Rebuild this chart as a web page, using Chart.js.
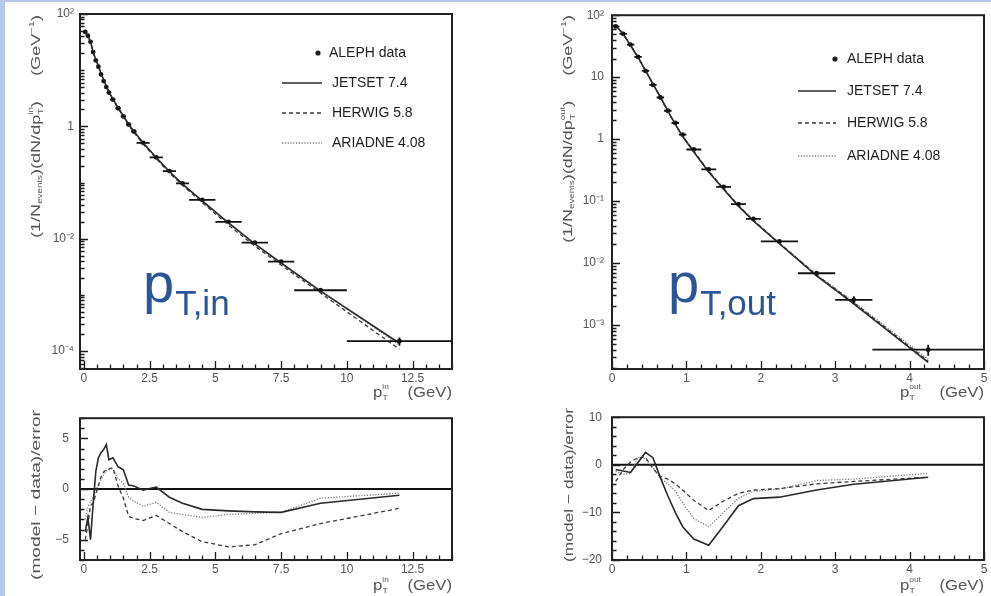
<!DOCTYPE html>
<html><head><meta charset="utf-8">
<script src="https://cdn.jsdelivr.net/npm/chart.js@4.4.1/dist/chart.umd.min.js"></script>
<style>
html,body{margin:0;padding:0;background:#fff;width:991px;height:596px;overflow:hidden;position:relative}
#strip{position:absolute;left:0;top:0;width:5px;height:596px;background:#b6c9ec}
#topline{position:absolute;left:0;top:0;width:991px;height:2px;background:#b6c9ec}
canvas{position:absolute}
</style></head><body>
<div id="strip"></div><div id="topline"></div>
<canvas id="tl" width="500" height="400" style="left:0;top:0;width:500px;height:400px"></canvas>
<canvas id="tr" width="491" height="400" style="left:500px;top:0;width:491px;height:400px"></canvas>
<canvas id="bl" width="500" height="196" style="left:0;top:400px;width:500px;height:196px"></canvas>
<canvas id="br" width="491" height="196" style="left:500px;top:400px;width:491px;height:196px"></canvas>
<script>
// ---------- DATA ----------
const legendLabels = ['ALEPH data','JETSET 7.4','HERWIG 5.8','ARIADNE 4.08'];

// p_T,in spectrum
const inX      = [0.05,0.15,0.25,0.35,0.45,0.55,0.65,0.75,0.85,0.95,1.1,1.3,1.5,1.7,1.9,2.25,2.75,3.25,3.75,4.5,5.5,6.5,7.5,9,12];
const inXerr   = [0.05,0.05,0.05,0.05,0.05,0.05,0.05,0.05,0.05,0.05,0.1,0.1,0.1,0.1,0.1,0.25,0.25,0.25,0.25,0.5,0.5,0.5,0.5,1,2];
const inData   = [48,41,32,21,15,11.5,8.4,6.4,5.0,4.0,3.0,2.1,1.5,1.08,0.81,0.51,0.28,0.16,0.097,0.049,0.020,0.0085,0.0039,0.00121,0.00015];
const inDataErr= [1.2,1.0,0.8,0.5,0.4,0.3,0.2,0.16,0.12,0.1,0.07,0.05,0.035,0.025,0.02,0.013,0.008,0.005,0.003,0.0015,0.0007,0.0003,0.00015,0.00006,0.000025];
const inJetset = [47,41,32,21.3,15.4,11.9,8.8,6.7,5.2,4.1,3.07,2.14,1.53,1.09,0.82,0.51,0.28,0.157,0.094,0.047,0.0192,0.0081,0.0037,0.00117,0.000138];
const inHerwig = [46,40.5,31.5,21,15.1,11.6,8.5,6.5,5.05,4.05,3.03,2.1,1.49,1.04,0.78,0.485,0.267,0.149,0.089,0.044,0.0175,0.0074,0.0034,0.00108,0.000108];
const inAriadne= [47,41,31.8,21.1,15.2,11.7,8.6,6.6,5.1,4.08,3.05,2.12,1.51,1.07,0.8,0.498,0.274,0.153,0.092,0.046,0.019,0.008,0.0037,0.00119,0.000128];

// p_T,out spectrum
const outX      = [0.05,0.15,0.25,0.35,0.45,0.55,0.65,0.75,0.85,0.95,1.1,1.3,1.5,1.7,1.9,2.25,2.75,3.25,4.25];
const outXerr   = [0.05,0.05,0.05,0.05,0.05,0.05,0.05,0.05,0.05,0.05,0.1,0.1,0.1,0.1,0.1,0.25,0.25,0.25,0.75];
const outData   = [66,50,33.5,21.2,12.6,7.5,4.7,2.87,1.82,1.18,0.68,0.324,0.169,0.089,0.0516,0.0223,0.00684,0.00255,0.0004];
const outDataErr= [2,1.5,1,0.6,0.4,0.25,0.16,0.1,0.06,0.04,0.025,0.013,0.008,0.005,0.003,0.0015,0.0006,0.00035,0.00008];
const outJetset = [68,50,32.5,20.8,12.8,7.8,4.8,2.85,1.74,1.1,0.62,0.295,0.155,0.083,0.048,0.0205,0.0062,0.0022,0.00025];
const outHerwig = [67,49.5,32.8,21.3,12.9,7.7,4.7,2.82,1.75,1.12,0.64,0.305,0.16,0.085,0.049,0.021,0.0064,0.0023,0.00026];
const outAriadne= [67,49.5,32.8,21,12.8,7.7,4.75,2.83,1.74,1.11,0.63,0.30,0.158,0.085,0.049,0.021,0.0065,0.00235,0.00028];

// (model - data)/error
const resInJetset  = [-4.2,-2.8,-5.0,-1.5,1.7,3.1,3.6,3.9,4.4,2.9,3.1,2.2,1.9,0.4,0.3,-0.1,0.2,-0.8,-1.4,-2.0,-2.15,-2.25,-2.3,-1.4,-0.6];
const resInHerwig  = [-5.0,-3.5,-1.6,-1.4,-0.5,0.3,1.2,1.7,1.9,2.0,2.1,0.3,-0.9,-2.7,-2.9,-3.1,-2.6,-3.4,-4.2,-5.2,-5.7,-5.5,-4.4,-3.4,-1.9];
const resInAriadne = [-3.0,-1.8,-1.2,-0.8,-0.2,0.5,0.9,1.4,1.8,1.9,2.0,1.0,0.6,-0.8,-1.2,-1.7,-1.3,-2.3,-2.5,-2.8,-2.5,-2.4,-2.3,-0.9,-0.4];
const resOutJetset = [-1.0,-1.3,-1.6,0.5,2.6,1.5,-2.7,-6.5,-10,-13,-15.6,-16.9,-12.8,-8.6,-7.1,-6.8,-5.3,-4.1,-2.6];
const resOutHerwig = [-3.5,-1.0,0.6,1.5,1.6,-0.8,-2.5,-3.0,-4.0,-5.3,-7.5,-9.6,-7.6,-6.0,-5.3,-5.0,-4.0,-3.5,-2.6];
const resOutAriadne= [-1.3,-2.0,-1.8,1.6,1.2,-0.5,-2.8,-4.0,-5.5,-8.0,-11.3,-13.0,-10.0,-7.0,-5.6,-5.1,-3.3,-3.0,-1.8];

// tick labels
const xTicksIn  = [0,2.5,5,7.5,10,12.5];
const xTicksOut = [0,1,2,3,4,5];
const yTicksInLog  = [100,1,0.01,0.0001];
const yTicksOutLog = [100,10,1,0.1,0.01,0.001];
const yTicksResIn  = [5,0,-5];
const yTicksResOut = [10,0,-10,-20];

// ---------- helpers ----------
const FAM = '"Liberation Sans", Arial, sans-serif';
const SUP = {'-':'\u207B','0':'\u2070','1':'\u00B9','2':'\u00B2','3':'\u00B3','4':'\u2074'};
function logLabel(v){const e=Math.round(Math.log10(v)); if(e===0)return '1'; if(e===1)return '10'; return '10'+String(e).split('').map(c=>SUP[c]).join('');}
function numLabel(v){return v<0?'\u2212'+Math.abs(v):String(v);}
function pts(X,Y){return X.map((x,i)=>({x:x,y:Y[i]}));}
function logMinor(min,max){const a=[];for(let e=Math.floor(Math.log10(min));e<=Math.ceil(Math.log10(max));e++){for(let k=1;k<10;k++){const v=k*Math.pow(10,e);if(v>=min*0.999&&v<=max*1.001)a.push(v);}}return a;}
function range(a,b,s){const r=[];for(let v=a;v<=b+1e-9;v+=s)r.push(+v.toFixed(6));return r;}
const STY = [
  {color:'#2a2a2a',width:1.6,dash:[]},
  {color:'#3a3a3a',width:1.3,dash:[4,3]},
  {color:'#7a7a7a',width:1.3,dash:[1.2,1.6]}
];
function lineDs(X,Y,i,label){return {label:label,data:pts(X,Y),showLine:true,borderColor:STY[i].color,borderWidth:STY[i].width,borderDash:STY[i].dash,pointRadius:0,fill:false,tension:0};}

function rich(ctx,parts,x,y,o){
  ctx.save();
  ctx.translate(x,y);
  if(o.rot)ctx.rotate(-Math.PI/2);
  let cur=0,prevStart=0,prevW=0;const lay=[];
  for(const p of parts){
    ctx.font=p.s+'px '+FAM;const w=ctx.measureText(p.t).width;
    if(p.same){lay.push({p:p,x:prevStart});cur=Math.max(cur,prevStart+w);}
    else{lay.push({p:p,x:cur});prevStart=cur;prevW=w;cur+=w;}
  }
  const sc=o.len?o.len/cur:1;
  const start=o.align==='right'?-cur*sc:0;
  ctx.translate(start,0);ctx.scale(sc,1);
  ctx.fillStyle=o.color||'#555';ctx.textBaseline='alphabetic';ctx.textAlign='left';
  for(const l of lay){ctx.font=l.p.s+'px '+FAM;ctx.fillText(l.p.t,l.x,l.p.dy||0);}
  ctx.restore();
}

function deco(c){
  return {
    id:'deco',
    beforeDatasetsDraw(chart){
      if(!c.zero)return;
      const ctx=chart.ctx,a=chart.chartArea,y=chart.scales.y;
      const py=y.getPixelForValue(0);
      ctx.save();ctx.strokeStyle='#111';ctx.lineWidth=2;ctx.beginPath();ctx.moveTo(a.left,py);ctx.lineTo(a.right,py);ctx.stroke();ctx.restore();
    },
    afterDatasetsDraw(chart){
      const ctx=chart.ctx,a=chart.chartArea,x=chart.scales.x,y=chart.scales.y;
      if(c.err){
        const E=c.err;
        ctx.save();ctx.beginPath();ctx.rect(a.left,a.top,a.right-a.left,a.bottom-a.top);ctx.clip();
        ctx.strokeStyle='#111';ctx.lineWidth=1.8;ctx.beginPath();
        E.X.forEach((xv,i)=>{
          const yv=E.Y[i],py=y.getPixelForValue(yv),px=x.getPixelForValue(xv);
          ctx.moveTo(x.getPixelForValue(xv-E.xe[i]),py);ctx.lineTo(x.getPixelForValue(xv+E.xe[i]),py);
          ctx.moveTo(px,y.getPixelForValue(yv-E.ye[i]));ctx.lineTo(px,y.getPixelForValue(yv+E.ye[i]));
        });
        ctx.stroke();ctx.restore();
      }
      ctx.save();ctx.strokeStyle='#1a1a1a';ctx.lineWidth=1.3;ctx.beginPath();
      c.yMinor.forEach(v=>{const p=Math.round(y.getPixelForValue(v))+0.5;ctx.moveTo(a.left,p);ctx.lineTo(a.left+4.5,p);});
      c.yMajor.forEach(v=>{const p=Math.round(y.getPixelForValue(v))+0.5;ctx.moveTo(a.left,p);ctx.lineTo(a.left+8,p);});
      c.xMinor.forEach(v=>{const p=Math.round(x.getPixelForValue(v))+0.5;ctx.moveTo(p,a.bottom);ctx.lineTo(p,a.bottom-4.5);});
      c.xMajor.forEach(v=>{const p=Math.round(x.getPixelForValue(v))+0.5;ctx.moveTo(p,a.bottom);ctx.lineTo(p,a.bottom-8);});
      ctx.stroke();
      ctx.lineWidth=2;ctx.strokeStyle='#222';ctx.strokeRect(a.left,a.top,a.right-a.left,a.bottom-a.top);
      ctx.restore();
    },
    afterDraw(chart){
      const ctx=chart.ctx;
      if(c.legend){
        const L=c.legend;
        ctx.save();ctx.fillStyle='#1e1e1e';ctx.font='14px '+FAM;ctx.textBaseline='middle';ctx.textAlign='left';
        ctx.beginPath();ctx.arc(L.dotX,L.rows[0],2.6,0,2*Math.PI);ctx.fill();
        ctx.fillText(legendLabels[0],L.tx0,L.rows[0]);
        for(let i=0;i<3;i++){
          const yy=L.rows[i+1];
          ctx.save();ctx.strokeStyle=STY[i].color;ctx.lineWidth=STY[i].width;ctx.setLineDash(STY[i].dash);
          ctx.beginPath();ctx.moveTo(L.lx0,yy);ctx.lineTo(L.lx1,yy);ctx.stroke();ctx.restore();
          ctx.fillText(legendLabels[i+1],L.tx,yy);
        }
        ctx.restore();
      }
      if(c.yTitle)rich(ctx,c.yTitle.parts,c.yTitle.x,c.yTitle.y,{rot:true,align:'right',len:c.yTitle.len});
      if(c.xTitle)rich(ctx,c.xTitle.parts,c.xTitle.x,c.xTitle.y,{align:'right',len:c.xTitle.len});
      if(c.big){
        ctx.save();ctx.fillStyle='#2c5597';ctx.textBaseline='alphabetic';ctx.textAlign='left';
        ctx.font='56px '+FAM;ctx.fillText('p',c.big.x,c.big.y);
        const w=ctx.measureText('p').width;
        ctx.font='35px '+FAM;ctx.fillText(c.big.sub,c.big.x+w+1,c.big.y+13);
        ctx.restore();
      }
    }
  };
}

const TICKFONT={family:FAM,size:12};
function xScale(min,max,ticks,h){
  return {type:'linear',min:min,max:max,bounds:'data',
    afterBuildTicks:s=>{s.ticks=ticks.map(v=>({value:v}));},
    afterFit:s=>{s.height=h;},
    grid:{display:false,drawTicks:false},border:{display:false},
    ticks:{autoSkip:false,maxRotation:0,padding:2,font:TICKFONT,color:'#555',callback:v=>String(v)}};
}
function yScale(type,min,max,ticks,w,pad,fmt){
  return {type:type,min:min,max:max,bounds:'data',
    afterBuildTicks:s=>{s.ticks=ticks.map(v=>({value:v}));},
    afterFit:s=>{s.width=w;},
    grid:{display:false,drawTicks:false},border:{display:false},
    ticks:{autoSkip:false,padding:pad,font:TICKFONT,color:'#555',callback:fmt}};
}
const baseOpts=(pad,x,y)=>({responsive:false,animation:false,events:[],layout:{padding:pad},
  plugins:{legend:{display:false},tooltip:{enabled:false}},scales:{x:x,y:y}});

const yTitleSpec=(sup)=>[{t:'(1/N',s:13},{t:'events',s:7,dy:2},{t:')(dN/dp',s:13},{t:'T',s:8,dy:3},{t:sup,s:7,dy:-7,same:true},{t:')     (GeV',s:13},{t:'\u22121',s:8,dy:-6},{t:')',s:13}];
const xTitleSpec=(sup)=>[{t:'p',s:14},{t:'T',s:8,dy:3},{t:sup,s:7,dy:-8,same:true},{t:'    (GeV)',s:14}];

// ---------- top-left: p_T,in ----------
new Chart(document.getElementById('tl'),{type:'scatter',
  data:{datasets:[lineDs(inX,inJetset,0,legendLabels[1]),lineDs(inX,inHerwig,1,legendLabels[2]),lineDs(inX,inAriadne,2,legendLabels[3]),
    {label:legendLabels[0],data:pts(inX,inData),showLine:false,pointRadius:2.4,pointBackgroundColor:'#111',pointBorderWidth:0}]},
  options:baseOpts({top:14,right:48,left:0,bottom:0},
    xScale(-0.15,14,xTicksIn,31),
    yScale('logarithmic',4.8e-5,100,yTicksInLog,80,6,logLabel)),
  plugins:[deco({err:{X:inX,Y:inData,xe:inXerr,ye:inDataErr},
    yMinor:logMinor(4.8e-5,100),yMajor:yTicksInLog,xMinor:range(0,14,0.5),xMajor:xTicksIn,
    legend:{dotX:318,tx0:329,lx0:282,lx1:322,tx:332,rows:[53,83,113,143]},
    yTitle:{parts:yTitleSpec('in'),x:40,y:15,len:223},
    xTitle:{parts:xTitleSpec('in'),x:452,y:397,len:79},
    big:{x:143,y:302,sub:'T,in'}})]
});

// ---------- top-right: p_T,out ----------
new Chart(document.getElementById('tr'),{type:'scatter',
  data:{datasets:[lineDs(outX,outJetset,0,legendLabels[1]),lineDs(outX,outHerwig,1,legendLabels[2]),lineDs(outX,outAriadne,2,legendLabels[3]),
    {label:legendLabels[0],data:pts(outX,outData),showLine:false,pointRadius:2.4,pointBackgroundColor:'#111',pointBorderWidth:0}]},
  options:baseOpts({top:14,right:7,left:0,bottom:0},
    xScale(0,5,xTicksOut,31),
    yScale('logarithmic',1.95e-4,100,yTicksOutLog,112,8,logLabel)),
  plugins:[deco({err:{X:outX,Y:outData,xe:outXerr,ye:outDataErr},
    yMinor:logMinor(1.95e-4,100),yMajor:yTicksOutLog,xMinor:range(0,5,0.2),xMajor:xTicksOut,
    legend:{dotX:335,tx0:347,lx0:298,lx1:336,tx:347,rows:[59,91,123,156]},
    yTitle:{parts:yTitleSpec('out'),x:72,y:15,len:228},
    xTitle:{parts:xTitleSpec('out'),x:484,y:397,len:84},
    big:{x:168,y:302,sub:'T,out'}})]
});

// ---------- bottom-left residuals ----------
new Chart(document.getElementById('bl'),{type:'scatter',
  data:{datasets:[lineDs(inX,resInJetset,0,legendLabels[1]),lineDs(inX,resInHerwig,1,legendLabels[2]),lineDs(inX,resInAriadne,2,legendLabels[3])]},
  options:baseOpts({top:9,right:48,left:0,bottom:0},
    xScale(-0.15,14,xTicksIn,36),
    yScale('linear',-7,7,yTicksResIn,80,11,numLabel)),
  plugins:[deco({zero:true,
    yMinor:range(-7,7,1),yMajor:yTicksResIn,xMinor:range(0,14,0.5),xMajor:xTicksIn,
    yTitle:{parts:[{t:'(model \u2212 data)/error',s:13}],x:40,y:10,len:170},
    xTitle:{parts:xTitleSpec('in'),x:452,y:190,len:79}})]
});

// ---------- bottom-right residuals ----------
new Chart(document.getElementById('br'),{type:'scatter',
  data:{datasets:[lineDs(outX,resOutJetset,0,legendLabels[1]),lineDs(outX,resOutHerwig,1,legendLabels[2]),lineDs(outX,resOutAriadne,2,legendLabels[3])]},
  options:baseOpts({top:9,right:7,left:0,bottom:0},
    xScale(0,5,xTicksOut,36),
    yScale('linear',-20,10,yTicksResOut,112,10,numLabel)),
  plugins:[deco({zero:true,
    yMinor:range(-20,10,2),yMajor:yTicksResOut,xMinor:range(0,5,0.2),xMajor:xTicksOut,
    yTitle:{parts:[{t:'(model \u2212 data)/error',s:13}],x:73,y:8,len:154},
    xTitle:{parts:xTitleSpec('out'),x:484,y:190,len:84}})]
});
</script>
</body></html>
